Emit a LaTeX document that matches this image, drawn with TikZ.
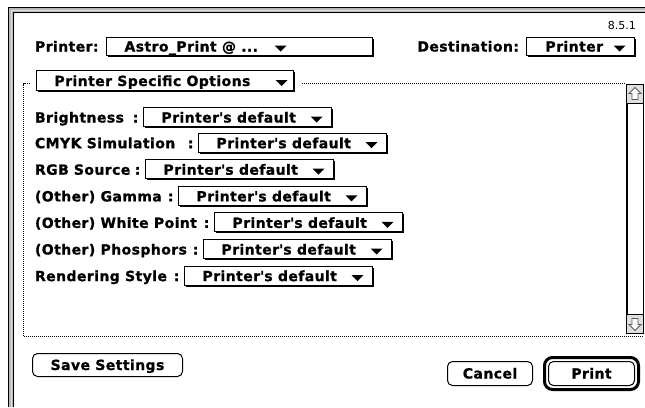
\documentclass[tikz,border=0pt]{standalone}
\usepackage{fontspec}
\newfontfamily\chicago[LetterSpace=3,FakeBold=1]{DejaVu Sans Bold}
\newfontfamily\geneva{DejaVu Sans}
\usetikzlibrary{shadows}

% popup menu: name, left x, centre y, width, height, text, triangle offset, text offset
\newcommand\dlgpopup[8]{%
  \node[popbox, minimum width=#4pt, minimum height=#5pt, anchor=west] (#1) at (#2,#3) {};
  \node[ui, anchor=base west] (#1-txt) at ([xshift=#8pt, yshift=-5.5pt]#1.west) {#6};
  \fill ([xshift=#7pt, yshift=0.5pt]#1.west) -- ++(12,0) -- ++(-6,6) -- cycle;
}
% option row: name, centre y, label, popup left x
\newcommand\dlgrow[4]{%
  \node[ui, anchor=base west] (#1-lbl) at (35,{#2+5.5})
    {\hbox to \dimexpr#4pt-40pt\relax{#3\hskip 5pt plus 1fil minus 4pt:}};
  \dlgpopup{#1}{#4}{#2}{188}{19}{Printer\textquotesingle s default}{167}{18}
}

\begin{document}
\begin{tikzpicture}[x=1pt, y=-1pt,
  ui/.style={font=\chicago\fontsize{14}{16}\selectfont, inner sep=0pt, outer sep=0pt},
  popbox/.style={draw, line width=1pt, fill=white, inner sep=0pt, outer sep=0pt,
    drop shadow={shadow xshift=1.5pt, shadow yshift=-1.5pt, opacity=1, fill=black}},
  btn/.style={ui, draw, line width=1pt, rounded corners=5pt, fill=white,
    text height=10pt, text depth=0pt},
  dotline/.style={line width=1pt, dash pattern=on 1pt off 1pt},
  arrowbox/.style={draw, line width=1pt, fill=gray!25, minimum width=17pt,
    minimum height=19pt, inner sep=0pt, outer sep=0pt},
  sbarrow/.style={draw=black!65, fill=white, line width=0.8pt, line join=miter}
]
\useasboundingbox (0,0) rectangle (645,407);
\fill[white] (0,0) rectangle (645,407);

% window frame
\fill[gray!55] (8,407) -- (8,7) -- (645,7) -- (645,13) -- (14,13) -- (14,407) -- cycle;
\draw[gray!25, line width=1pt] (11,407) -- (11,10) -- (645,10);
\draw[line width=1pt] (8.5,407) -- (8.5,7.5) -- (645,7.5);
\draw[line width=1pt] (13.5,407) -- (13.5,12.5) -- (645,12.5);

% version number
\node[font=\geneva\fontsize{11}{13}\selectfont, anchor=base east, inner sep=0pt] (ver) at (636,29) {8.5.1};

% printer and destination
\node[ui, anchor=base west] (prn-lbl) at (35,51.5) {Printer:};
\dlgpopup{prn}{106.5}{46}{266}{18}{Astro\_Print @ ...}{168}{18}
\node[ui, anchor=base east] (dst-lbl) at (519,51.5) {Destination:};
\dlgpopup{dst}{526.5}{46}{108}{18}{Printer}{87}{19}

% options group
\draw[dotline] (30,83.5) -- (23.5,83.5) -- (23.5,336.5) -- (644,336.5);
\draw[dotline] (302,83.5) -- (626,83.5);
\dlgpopup{pso}{36.5}{80.5}{257}{20}{Printer Specific Options}{239}{18}

% scroll bar
\node[draw, line width=1pt, fill=white, minimum width=17pt, minimum height=249pt,
  inner sep=0pt, outer sep=0pt, anchor=north west] (sbar) at (626.5,84.5) {};
\draw[line width=1pt] ([xshift=1pt]sbar.north west) -- ([xshift=1pt]sbar.south west);
\node[arrowbox, anchor=north west] (sb-up) at (sbar.north west) {};
\node[arrowbox, anchor=south west] (sb-dn) at (sbar.south west) {};
\draw[sbarrow] (sb-up.center) ++(0,-6.5) -- ++(6,6) -- ++(-3,0) -- ++(0,6) -- ++(-6,0) -- ++(0,-6) -- ++(-3,0) -- cycle;
\draw[sbarrow] (sb-dn.center) ++(0,6.5) -- ++(6,-6) -- ++(-3,0) -- ++(0,-6) -- ++(-6,0) -- ++(0,6) -- ++(-3,0) -- cycle;

% option rows
\dlgrow{bright}{117}{Brightness}{143.5}
\dlgrow{cmyk}{142.7}{CMYK Simulation}{198.5}
\dlgrow{rgb}{169.2}{RGB Source}{145.5}
\dlgrow{gamma}{195.9}{(Other) Gamma}{178.5}
\dlgrow{white}{222.4}{(Other) White Point}{214.5}
\dlgrow{phos}{249}{(Other) Phosphors}{203.5}
\dlgrow{rend}{275.6}{Rendering Style}{184.5}

% buttons
\node[btn, minimum width=150pt, minimum height=23pt] (save) at (107.5,365) {Save Settings};
\node[btn, minimum width=85pt, minimum height=24pt] (cancel) at (490,373.5) {Cancel};
\node[btn, minimum width=86pt, minimum height=24pt] (print) at (591.5,373.5) {Print};
\draw[line width=3pt, rounded corners=8pt] ([shift={(-4pt,-4pt)}]print.south west) rectangle ([shift={(4pt,4pt)}]print.north east);
\end{tikzpicture}
\end{document}
